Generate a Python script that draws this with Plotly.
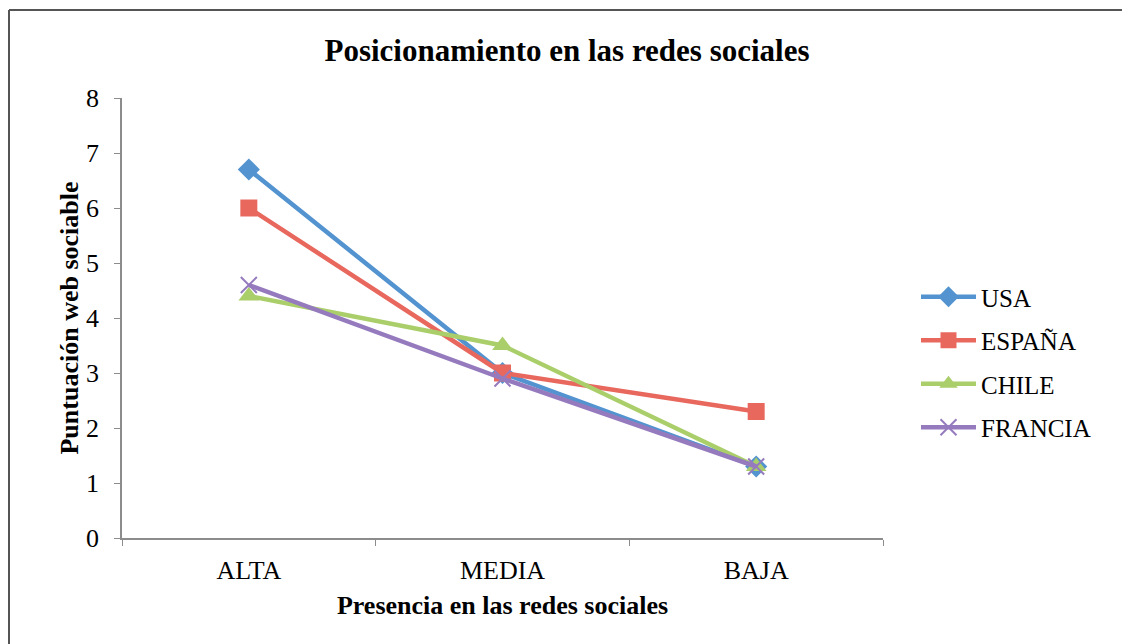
import plotly.graph_objects as go

categories = ["ALTA", "MEDIA", "BAJA"]
usa = [6.7, 3.0, 1.3]
espana = [6.0, 3.0, 2.3]
chile = [4.4, 3.5, 1.3]
francia = [4.6, 2.9, 1.3]
y_ticks = [0, 1, 2, 3, 4, 5, 6, 7, 8]

series = [
    ("USA", usa, "#5393D0", "diamond", 17),
    ("ESPAÑA", espana, "#E8685E", "square", 17),
    ("CHILE", chile, "#AACE6A", "triangle-up", 18),
    ("FRANCIA", francia, "#957BBE", "x-thin-open", 16),
]

fig = go.Figure()
for name, vals, color, sym, size in series:
    fig.add_trace(go.Scatter(
        x=categories, y=vals, name=name, mode="lines+markers", legendgroup=name,
        line=dict(color=color, width=4.5),
        marker=dict(symbol=sym, size=size, color=color,
                    line=dict(color=color, width=2 if sym.startswith("x") else 0)),
    ))

font_family = "Liberation Serif, Times New Roman, serif"
# the page body has an 8px margin, so figure coordinates = screen - 8
OFF = 8
W, H = 1130 - OFF, 644 - OFF
L, R, T, B = 122 - OFF, 883 - OFF, 98 - OFF, 538 - OFF
pw, ph = R - L, B - T

def px_to_paper_x(px):
    return (px - OFF - L) / pw

def px_to_paper_y(py):
    return (B - (py - OFF)) / ph

fig.update_layout(
    width=W, height=H,
    margin=dict(l=L, r=W - R, t=T, b=H - B, pad=0),
    paper_bgcolor="white", plot_bgcolor="white",
    font=dict(family=font_family, size=26, color="black"),
    title=dict(text="<b>Posicionamiento en las redes sociales</b>",
               font=dict(size=31, family=font_family, color="black"),
               x=(567 - OFF) / W, xanchor="center", y=1 - (50 - OFF) / H, yanchor="middle"),
    showlegend=True,
    legend=dict(x=px_to_paper_x(916), y=px_to_paper_y(362), xanchor="left", yanchor="middle",
                font=dict(size=25, family=font_family), tracegroupgap=8,
                itemwidth=55, bgcolor="rgba(0,0,0,0)"),
    xaxis=dict(
        type="category", categoryorder="array", categoryarray=categories,
        range=[-0.5, 2.5], tickson="boundaries", ticks="outside", ticklen=6,
        tickcolor="#8c8c8c", showline=True, linecolor="#8c8c8c", linewidth=1.5,
        showgrid=False, zeroline=False, ticklabelstandoff=8,
        tickfont=dict(size=26, family=font_family),
        title=dict(text="<b>Presencia en las redes sociales</b>",
                   font=dict(size=26, family=font_family), standoff=12),
    ),
    yaxis=dict(
        range=[0, 8], tickvals=y_ticks, ticks="outside", ticklen=6,
        tickcolor="#8c8c8c", showline=True, linecolor="#8c8c8c", linewidth=1.5,
        showgrid=False, zeroline=False,
        tickfont=dict(size=26, family=font_family), ticklabelstandoff=10,
        title=dict(text="<b>Puntuación web sociable</b>",
                   font=dict(size=26, family=font_family), standoff=0),
    ),
    shapes=[
        dict(type="line", xref="paper", yref="paper",
             x0=px_to_paper_x(9), x1=px_to_paper_x(1140),
             y0=px_to_paper_y(10), y1=px_to_paper_y(10),
             line=dict(color="#555555", width=2)),
        dict(type="line", xref="paper", yref="paper",
             x0=px_to_paper_x(9), x1=px_to_paper_x(9),
             y0=px_to_paper_y(10), y1=px_to_paper_y(660),
             line=dict(color="#555555", width=2)),
    ],
)

fig.write_html("out.html")
